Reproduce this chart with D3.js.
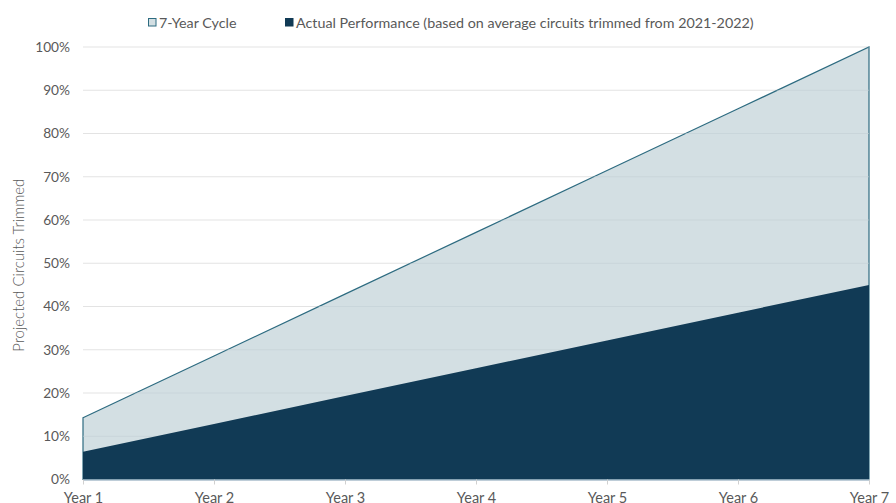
<!DOCTYPE html>
<html>
<head>
<meta charset="utf-8">
<script src="https://cdn.jsdelivr.net/npm/d3@7"></script>
<style>
  body { margin: 0; background: #fff; overflow: hidden; }
  text { font-family: Lato, "Open Sans", sans-serif; fill: #595959; }
</style>
</head>
<body>
<svg id="chart1"></svg>
<script>
let w = 896;
let h = 503;

// data
let years = ['Year 1', 'Year 2', 'Year 3', 'Year 4', 'Year 5', 'Year 6', 'Year 7'];
let cycle = [14.29, 28.57, 42.86, 57.14, 71.43, 85.71, 100];
let actual = [6.43, 12.86, 19.29, 25.71, 32.14, 38.57, 45.0];
let yTicks = [0, 10, 20, 30, 40, 50, 60, 70, 80, 90, 100];
let seriesNames = ['7-Year Cycle', 'Actual Performance (based on average circuits trimmed from 2021-2022)'];

let svg = d3.select('#chart1')
  .attr('width', w)
  .attr('height', h);

let xScale = d3.scalePoint()
  .domain(years)
  .range([83, 869]);

let yScale = d3.scaleLinear()
  .domain([0, 100])
  .range([479.5, 47]);

// gridlines
svg.append('g')
  .selectAll('line')
  .data(yTicks.slice(1))
  .enter()
  .append('line')
  .attr('x1', 83)
  .attr('x2', 869)
  .attr('y1', d => yScale(d))
  .attr('y2', d => yScale(d))
  .attr('stroke', '#e3e3e3')
  .attr('stroke-width', 1);

let areaCycle = d3.area()
  .x((d, i) => xScale(years[i]))
  .y0(yScale(0))
  .y1(d => yScale(d));

svg.append('clipPath')
  .attr('id', 'clipCycle')
  .append('path')
  .datum(cycle)
  .attr('d', areaCycle);

svg.append('path')
  .datum(cycle)
  .attr('d', areaCycle)
  .attr('fill', '#d3dfe3')
  .attr('stroke', '#2d6b80')
  .attr('stroke-width', 1.2);

// gridlines show through lightly over the light area
svg.append('g')
  .attr('clip-path', 'url(#clipCycle)')
  .selectAll('line')
  .data(yTicks.slice(1))
  .enter()
  .append('line')
  .attr('x1', 83)
  .attr('x2', 869)
  .attr('y1', d => yScale(d))
  .attr('y2', d => yScale(d))
  .attr('stroke', '#c4d0d5')
  .attr('stroke-width', 1)
  .attr('opacity', 0.6);

svg.append('path')
  .datum(actual)
  .attr('d', areaCycle)
  .attr('fill', '#113a55');

// x axis baseline
let xAxis = d3.axisBottom(xScale).tickSize(5).tickSizeOuter(0);
let xAxisGroup = svg.append('g')
  .attr('transform', `translate(0, ${yScale(0)})`)
  .call(xAxis);
xAxisGroup.select('.domain').attr('stroke', '#a9bccb').attr('stroke-width', 1.5);
xAxisGroup.selectAll('.tick line').attr('stroke', '#d0d0d0');
xAxisGroup.selectAll('.tick text')
  .attr('y', 23)
  .attr('dy', 0)
  .style('font-size', '14.5px')
  .style('fill', '#595959');

// y axis labels
let yAxis = d3.axisLeft(yScale).tickValues(yTicks).tickFormat(d => d + '%').tickSize(0);
let yAxisGroup = svg.append('g')
  .attr('transform', 'translate(83, 0)')
  .call(yAxis);
yAxisGroup.select('.domain').remove();
yAxisGroup.selectAll('.tick text')
  .attr('x', -13)
  .style('font-size', '13.7px')
  .style('fill', '#595959');

// y axis title
svg.append('text')
  .attr('transform', `translate(24, ${yScale(50) + 2}) rotate(-90)`)
  .attr('text-anchor', 'middle')
  .style('font-size', '15px')
  .style('font-weight', 300)
  .text('Projected Circuits Trimmed');

// legend
let legendX = [148, 285];
let legendFill = ['#d3dfe3', '#113a55'];
let legendStroke = ['#2d6b80', '#113a55'];
let legend = svg.append('g');
legend.selectAll('rect')
  .data(seriesNames)
  .enter()
  .append('rect')
  .attr('x', (d, i) => legendX[i] + 0.5)
  .attr('y', 18.5)
  .attr('width', 7.5)
  .attr('height', 7.5)
  .attr('fill', (d, i) => legendFill[i])
  .attr('stroke', (d, i) => legendStroke[i])
  .attr('stroke-width', 1);
legend.selectAll('text')
  .data(seriesNames)
  .enter()
  .append('text')
  .attr('x', (d, i) => legendX[i] + 11)
  .attr('y', 27.5)
  .style('font-size', '14.3px')
  .text(d => d);
</script>
</body>
</html>
